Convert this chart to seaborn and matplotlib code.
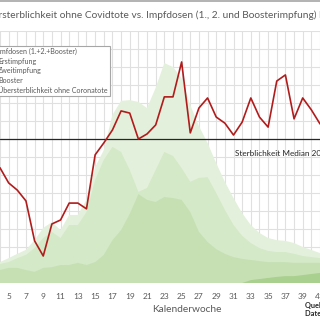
import numpy as np
import pandas as pd
import matplotlib.pyplot as plt
import seaborn as sns
from matplotlib.patches import Patch
from matplotlib.lines import Line2D

# Kalenderwochen 2021
weeks = list(range(4, 42))

# Sterbefaelle ohne Covidtote pro Woche (geschaetzt)
deaths = [16700, 16280, 16080, 15780, 14670, 14250, 15140, 15250, 15720, 15720,
          15560, 17060, 17390, 17750, 18280, 18220, 17500, 17640, 17890, 18670,
          18670, 19640, 17670, 18360, 18640, 18110, 17940, 17610, 17970, 18640,
          18110, 17830, 19110, 19280, 18060, 18640, 18310, 17920]
median_deaths = 17500

# Impfdosen pro Woche in Mio.
total = [0.58, 0.69, 0.81, 0.92, 1.19, 1.53, 1.69, 1.47, 1.89, 1.89,
         2.31, 3.22, 3.69, 4.67, 5.06, 5.08, 5.03, 4.86, 5.42, 6.11,
         6.00, 5.69, 4.94, 4.36, 3.89, 3.33, 2.81, 2.36, 1.94, 1.61,
         1.39, 1.25, 1.19, 1.17, 1.11, 1.00, 0.92, 0.83]
erst = [0.53, 0.58, 0.69, 0.78, 0.97, 1.25, 1.42, 1.25, 1.61, 1.61,
        1.97, 2.86, 3.42, 3.78, 3.64, 3.14, 2.53, 2.64, 3.14, 3.64,
        3.53, 3.19, 2.81, 2.92, 2.94, 2.50, 2.03, 1.61, 1.31, 1.11,
        0.97, 0.89, 0.86, 0.86, 0.81, 0.75, 0.72, 0.69]
zweit = [0.36, 0.42, 0.42, 0.36, 0.31, 0.42, 0.44, 0.50, 0.50, 0.56,
         0.50, 0.58, 0.78, 1.19, 1.47, 1.92, 2.47, 2.31, 2.25, 2.39,
         2.36, 2.31, 1.97, 1.42, 1.14, 0.94, 0.81, 0.72, 0.67, 0.64,
         0.61, 0.58, 0.58, 0.58, 0.56, 0.56, 0.56, 0.56]
booster = [0] * 29 + [0.08, 0.11, 0.14, 0.17, 0.19, 0.19, 0.22, 0.25, 0.28]

labels = ["Imfdosen (1.+2.+Booster)", "Erstimpfung", "Zweitimpfung", "Booster",
          "Übersterblichkeit ohne Coronatote"]
colors = ["#e3f0db", "#d4e9c7", "#c6e0b4", "#a9d08e"]
red = "#b01c1c"
grey_txt = "#595959"

df = pd.DataFrame({"kw": weeks, "tote": deaths})

sns.set_theme(style="white")
plt.rcParams['font.family'] = ['Lato', 'DejaVu Sans']

fig = plt.figure(figsize=(3.2, 3.2), dpi=100)
ax = fig.add_axes([0, 1 - 283 / 320, 1, 252 / 320])

for vals, c in zip([total, erst, zweit, booster], colors):
    ax.fill_between(weeks, 0, vals, color=c, lw=0, zorder=2)

ax.set_xlim(4.14, 40.84)
ax.set_ylim(0, 7)
ax.set_xticks(range(5, 42, 2))
ax.set_xticks(range(4, 42, 2), minor=True)
ax.set_yticks(np.arange(0, 7.01, 0.5))
ax.set_yticklabels([])
ax.grid(True, which="both", color="#e0e0e0", lw=0.8, zorder=0)
ax.set_axisbelow(True)
ax.tick_params(axis="x", which="both", length=0, pad=7, labelsize=6, labelcolor=grey_txt)
ax.tick_params(axis="y", length=0)
for s in ax.spines.values():
    s.set_visible(False)

ax2 = ax.twinx()
ax2.set_ylim(13500, 20500)
ax2.axhline(median_deaths, color="#262626", lw=0.9, zorder=3)
sns.lineplot(data=df, x="kw", y="tote", ax=ax2, color=red, lw=1.2, zorder=4)
ax2.set_yticks([])
ax2.set_xlabel("")
ax2.set_ylabel("")
for s in ax2.spines.values():
    s.set_visible(False)

fig.text(235 / 320, 1 - 153 / 320, "Sterblichkeit Median 2016-2020", fontsize=5.9,
         color="#262626", va="center", ha="left")

handles = [Patch(facecolor=c, edgecolor="none") for c in colors]
handles.append(Line2D([0], [0], color=red, lw=1.2))
leg = fig.legend(handles, labels, loc="upper right",
                 bbox_to_anchor=(110 / 320, 1 - 46 / 320), bbox_transform=fig.transFigure,
                 fontsize=5.1, frameon=True, fancybox=False, framealpha=1,
                 edgecolor="#a6a6a6", borderaxespad=0, labelspacing=0.36,
                 handlelength=2.0, handletextpad=0.8, borderpad=0.3)
leg.get_frame().set_linewidth(0.8)
for t in leg.get_texts():
    t.set_color(grey_txt)

fig.text(-20 / 320, 1 - 15 / 320,
         "Übersterblichkeit ohne Covidtote vs. Impfdosen (1., 2. und Boosterimpfung) bis KW 41",
         fontsize=7.3, color=grey_txt, ha="left", va="center")
fig.text(187 / 320, 1 - 309 / 320, "Kalenderwoche", fontsize=7.3, color=grey_txt,
         ha="center", va="center")
fig.text(305 / 320, 1 - 305 / 320, "Quelle: Destatis, RKI", fontsize=5.3,
         color="#262626", ha="left", va="center", fontweight="bold")
fig.text(305 / 320, 1 - 314 / 320, "Datenstand: KW 41", fontsize=5.3,
         color="#262626", ha="left", va="center", fontweight="bold")
fig.add_artist(Line2D([0, 1], [1 - 1 / 320, 1 - 1 / 320], transform=fig.transFigure,
                      color="#a6a6a6", lw=1.2))

fig.savefig("out.png", dpi=100)
